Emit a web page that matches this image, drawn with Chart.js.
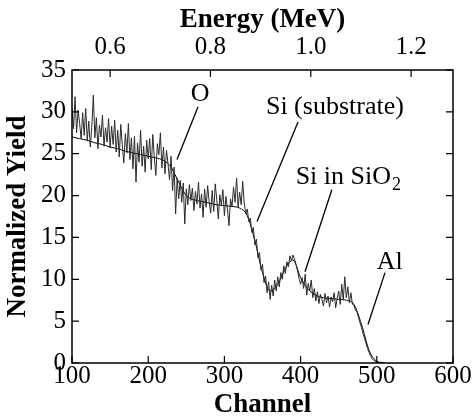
<!DOCTYPE html>
<html>
<head>
<meta charset="utf-8">
<script src="https://cdn.jsdelivr.net/npm/chart.js@4.4.1/dist/chart.umd.min.js"></script>
<style>
  html, body { margin: 0; padding: 0; background: #fff; }
  #wrap { width: 474px; height: 420px; position: relative; }
</style>
</head>
<body>
<div id="wrap"><canvas id="rbsChart"></canvas></div>
<script>
// measured spectrum: one value every 2 channels starting at channel 100
const CH_START = 100;
const CH_STEP = 2;
const yieldValues = [
  30.5, 28.0, 31.8, 27.5, 30.2, 28.6, 26.8, 29.9, 27.2, 30.4,
  26.5, 28.9, 25.8, 28.2, 32.0, 26.9, 29.3, 25.6, 28.4, 27.0,
  29.6, 25.9, 28.1, 26.4, 29.2, 25.7,
  28.3, 26.1, 29.0, 25.2, 27.8, 24.6, 28.5, 26.0, 23.9, 27.4,
  25.1, 28.6, 24.3, 26.9, 23.2, 27.1, 21.6, 26.3, 24.0, 27.8,
  23.5, 25.9, 22.8, 26.6, 24.4,
  26.8, 23.1, 27.3, 24.6, 22.4, 26.2, 24.9, 27.5, 23.3, 25.8,
  22.6, 25.4, 23.8, 21.9, 24.7, 20.6, 23.4, 17.8, 22.1, 19.6,
  21.8, 19.2, 21.5, 16.6, 20.8,
  18.9, 21.3, 19.4, 20.9, 18.2, 20.5, 19.0, 21.6, 18.5, 20.2,
  17.4, 20.8, 18.6, 21.2, 19.3, 17.9, 20.6, 18.1, 21.4, 19.5,
  17.2, 20.1, 18.8, 20.7, 17.6, 19.9, 18.4, 16.4, 19.6, 18.7,
  21.0, 19.2, 22.1, 18.6, 20.4, 18.9, 21.7, 19.1, 17.8, 18.4,
  16.9, 17.3, 15.6, 16.2, 14.1, 14.8, 12.6, 13.2, 11.1, 11.8,
  9.6, 10.4, 8.4, 9.7, 7.6, 9.3, 8.0, 9.9, 8.6, 10.3,
  9.1, 10.8, 10.0, 11.6, 10.7, 12.1, 11.5, 12.8, 12.2, 12.9,
  12.4, 11.8, 11.0, 10.1, 9.4, 10.2, 8.9, 10.6, 8.1, 9.5,
  8.6, 9.9, 7.8, 8.9, 7.4, 8.5, 7.1, 8.2, 7.6, 6.8,
  8.3, 7.2, 8.0, 6.7, 7.9, 7.3, 8.4, 6.6, 7.7, 8.6,
  7.0, 9.4, 7.5, 10.3, 7.8, 9.1, 7.2, 8.4, 7.0, 6.9,
  6.3, 6.1, 5.4, 4.8, 4.2, 3.5, 2.9, 2.3, 1.7, 1.2,
  0.8, 0.5, 0.3, 0.2, 0.1, 0.1, 0.05, 0.1, 0.0, 0.0
];

// simulated (fit) curve
const fitChannels = [
  100, 110, 120, 130, 140, 150, 160, 170, 180, 190,
  200, 210, 220, 230, 240, 250, 260, 270, 280, 290,
  300, 310, 320, 330, 340, 350, 360, 370, 380, 390,
  400, 410, 420, 430, 440, 450, 460, 470, 480, 490,
  500, 510
];
const fitValues = [
  27.0, 26.8, 26.6, 26.3, 26.1, 25.8, 25.6, 25.3, 25.1, 24.9,
  24.7, 24.5, 24.2, 23.4, 21.6, 20.0, 19.5, 19.3, 19.1, 18.9,
  18.8, 18.7, 18.5, 17.6, 14.6, 10.8, 8.6, 9.4, 11.3, 12.3,
  10.2, 8.8, 8.1, 7.8, 7.7, 7.6, 7.5, 7.0, 4.6, 1.5,
  0.2, 0.0
];

// axes
const channelTicks = [100, 200, 300, 400, 500, 600];
const yieldTicks = [0, 5, 10, 15, 20, 25, 30, 35];
const energyTicks = [0.6, 0.8, 1.0, 1.2];
const energyAtCh100 = 0.524;
const energyAtCh600 = 1.2835;

// peak labels: text anchor and leader line, in channel / yield units
const peakLabels = ['O', 'Si (substrate)', 'Si in SiO|2', 'Al'];
const labelAt = [[268, 32.1], [445, 30.6], [462, 22.2], [517, 12.1]];
const leaderFrom = [[265.4, 30.6], [396.6, 28.8], [441, 20.7], [510.8, 10.8]];
const leaderTo = [[237.8, 24.3], [342.8, 16.9], [405.8, 10.9], [488.4, 4.6]];

const SERIF = '"Liberation Serif", "DejaVu Serif", serif';

const frameAndTicks = {
  id: 'frameAndTicks',
  afterDraw(chart) {
    const { ctx, chartArea: a, scales } = chart;
    const len = 7;
    ctx.save();
    ctx.strokeStyle = '#000';
    ctx.lineWidth = 1.5;
    ctx.strokeRect(a.left, a.top, a.right - a.left, a.bottom - a.top);
    ctx.lineWidth = 1.2;
    ctx.beginPath();
    channelTicks.forEach(v => {
      const px = scales.x.getPixelForValue(v);
      ctx.moveTo(px, a.bottom); ctx.lineTo(px, a.bottom - len);
    });
    energyTicks.forEach(v => {
      const px = scales.x2.getPixelForValue(v);
      ctx.moveTo(px, a.top); ctx.lineTo(px, a.top + len);
    });
    yieldTicks.forEach(v => {
      const py = scales.y.getPixelForValue(v);
      ctx.moveTo(a.left, py); ctx.lineTo(a.left + len, py);
      ctx.moveTo(a.right, py); ctx.lineTo(a.right - len, py);
    });
    ctx.stroke();

    // peak annotations
    ctx.font = '26px ' + SERIF;
    ctx.fillStyle = '#000';
    ctx.textBaseline = 'middle';
    ctx.lineWidth = 1.3;
    peakLabels.forEach((txt, i) => {
      const x0 = scales.x.getPixelForValue(leaderFrom[i][0]);
      const y0 = scales.y.getPixelForValue(leaderFrom[i][1]);
      const x1 = scales.x.getPixelForValue(leaderTo[i][0]);
      const y1 = scales.y.getPixelForValue(leaderTo[i][1]);
      ctx.beginPath();
      ctx.moveTo(x0, y0); ctx.lineTo(x1, y1);
      ctx.stroke();

      const tx = scales.x.getPixelForValue(labelAt[i][0]);
      const ty = scales.y.getPixelForValue(labelAt[i][1]);
      const parts = txt.split('|');
      ctx.font = '26px ' + SERIF;
      const w0 = ctx.measureText(parts[0]).width;
      let w1 = 0;
      if (parts[1]) {
        ctx.font = '18px ' + SERIF;
        w1 = ctx.measureText(parts[1]).width;
      }
      const start = tx - (w0 + w1) / 2;
      ctx.textAlign = 'left';
      ctx.font = '26px ' + SERIF;
      ctx.fillText(parts[0], start, ty);
      if (parts[1]) {
        ctx.font = '18px ' + SERIF;
        ctx.fillText(parts[1], start + w0 + 1, ty + 8);
      }
    });
    ctx.restore();
  }
};

const tickFont = { family: SERIF, size: 25, lineHeight: 1 };
const titleFont = { family: SERIF, size: 27, weight: 'bold', lineHeight: 1 };

new Chart(document.getElementById('rbsChart'), {
  type: 'line',
  data: {
    datasets: [
      {
        label: 'Measured',
        data: yieldValues.map((v, i) => ({ x: CH_START + i * CH_STEP, y: v })),
        borderColor: '#2a2a2a',
        borderWidth: 1,
        pointRadius: 0,
        tension: 0,
        xAxisID: 'x',
        yAxisID: 'y'
      },
      {
        label: 'Simulation',
        data: fitChannels.map((c, i) => ({ x: c, y: fitValues[i] })),
        borderColor: '#000',
        borderWidth: 1,
        pointRadius: 0,
        cubicInterpolationMode: 'monotone',
        xAxisID: 'x',
        yAxisID: 'y'
      }
    ]
  },
  options: {
    responsive: true,
    maintainAspectRatio: false,
    animation: false,
    layout: { padding: 0 },
    plugins: {
      legend: { display: false },
      tooltip: { enabled: false }
    },
    scales: {
      x: {
        type: 'linear',
        position: 'bottom',
        min: 100,
        max: 600,
        afterBuildTicks: s => { s.ticks = channelTicks.map(v => ({ value: v })); },
        afterFit: s => { s.height = 57; },
        grid: { display: false, drawTicks: false },
        border: { display: false },
        ticks: { color: '#000', font: tickFont, padding: 1, maxRotation: 0 },
        title: { display: true, text: 'Channel', color: '#000', font: titleFont, padding: { top: 0, bottom: 1.5 } }
      },
      x2: {
        type: 'linear',
        position: 'top',
        min: energyAtCh100,
        max: energyAtCh600,
        afterBuildTicks: s => { s.ticks = energyTicks.map(v => ({ value: v })); },
        afterFit: s => { s.height = 70; },
        grid: { display: false, drawTicks: false },
        border: { display: false },
        ticks: { color: '#000', font: tickFont, padding: 10.5, maxRotation: 0, callback: v => v.toFixed(1) },
        title: { display: true, text: 'Energy (MeV)', color: '#000', font: titleFont, padding: { top: 6.5, bottom: 0 } }
      },
      y: {
        position: 'left',
        min: 0,
        max: 35,
        afterBuildTicks: s => { s.ticks = yieldTicks.map(v => ({ value: v })); },
        afterFit: s => { s.width = 72; },
        grid: { display: false, drawTicks: false },
        border: { display: false },
        ticks: { color: '#000', font: tickFont, padding: 6 },
        title: { display: true, text: 'Normalized Yield', color: '#000', font: titleFont, padding: { top: 5, bottom: 0 } }
      },
      y2: {
        position: 'right',
        min: 0,
        max: 35,
        afterFit: s => { s.width = 21; },
        grid: { display: false, drawTicks: false },
        border: { display: false },
        ticks: { display: false }
      }
    }
  },
  plugins: [frameAndTicks]
});
</script>
</body>
</html>
